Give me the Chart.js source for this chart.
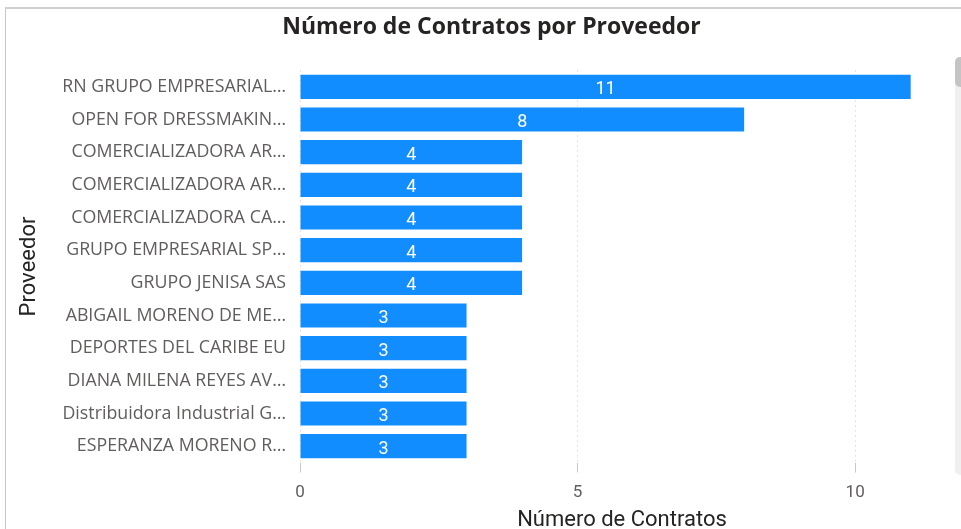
<!DOCTYPE html>
<html>
<head>
<meta charset="utf-8">
<script src="https://cdn.jsdelivr.net/npm/chart.js@4"></script>
<style>
  html, body { margin:0; padding:0; background:#fff; }
  #wrap { position:relative; width:961px; height:529px; overflow:hidden; background:#fff; }
  #frame { position:absolute; left:5px; top:7px; width:970px; height:540px; border-left:1px solid #c6c6c6; border-top:2px solid #d0d0d0; box-sizing:border-box; }
  #scroll { position:absolute; left:955px; top:57px; width:10px; height:418px; background:#f0f0f0; border-radius:5px; }
  #thumb { position:absolute; left:955px; top:57px; width:10px; height:30px; background:#c4c4c4; border-radius:5px; }
  canvas { position:absolute; left:0; top:0; }
</style>
</head>
<body>
<div id="wrap">
  <div id="frame"></div>
  <div id="scroll"></div>
  <div id="thumb"></div>
  <canvas id="c" width="961" height="529"></canvas>
</div>
<script>
const chartTitle = "Número de Contratos por Proveedor";
const categories = [
  "RN GRUPO EMPRESARIAL…",
  "OPEN FOR DRESSMAKIN…",
  "COMERCIALIZADORA AR…",
  "COMERCIALIZADORA AR…",
  "COMERCIALIZADORA CA…",
  "GRUPO EMPRESARIAL SP…",
  "GRUPO JENISA SAS",
  "ABIGAIL MORENO DE ME…",
  "DEPORTES DEL CARIBE EU",
  "DIANA MILENA REYES AV…",
  "Distribuidora Industrial G…",
  "ESPERANZA MORENO R…"
];
const contratos = [11, 8, 4, 4, 4, 4, 4, 3, 3, 3, 3, 3];
const xTicks = [0, 5, 10];

const extras = {
  id: 'extras',
  afterDraw(chart) {
    const ctx = chart.ctx;
    ctx.save();
    ctx.fillStyle = '#252423';
    ctx.font = 'bold 23px "Open Sans"';
    ctx.textAlign = 'center';
    ctx.textBaseline = 'middle';
    ctx.fillText(chartTitle, 491.5, 27);
    ctx.restore();
  },
  afterDatasetsDraw(chart) {
    const ctx = chart.ctx;
    const meta = chart.getDatasetMeta(0);
    ctx.save();
    ctx.fillStyle = '#ffffff';
    ctx.font = '18px Roboto';
    ctx.textAlign = 'center';
    ctx.textBaseline = 'middle';
    meta.data.forEach((bar, i) => {
      const cx = (bar.base + bar.x) / 2;
      ctx.fillText(String(contratos[i]), cx, bar.y + 3);
    });
    ctx.restore();
  }
};

new Chart(document.getElementById('c'), {
  type: 'bar',
  data: {
    labels: categories,
    datasets: [{
      data: contratos,
      backgroundColor: '#118DFF',
      barPercentage: 0.74,
      categoryPercentage: 1.0
    }]
  },
  options: {
    indexAxis: 'y',
    responsive: false,
    animation: false,
    devicePixelRatio: 1,
    layout: { padding: { left: 16, right: 17, top: 70.5, bottom: 0 } },
    plugins: {
      legend: { display: false },
      tooltip: { enabled: false },
      title: { display: false }
    },
    scales: {
      x: {
        min: 0,
        max: 11.6,
        afterBuildTicks(scale) { scale.ticks = xTicks.map(v => ({ value: v })); },
        afterFit(scale) { scale.height = 66.5; },
        grid: {
          display: true,
          color: '#c8c8c8',
          lineWidth: 1,
          drawTicks: true,
          tickLength: 10,
          tickColor: '#c8c8c8'
        },
        border: { display: false, dash: [1, 4] },
        ticks: {
          color: '#605e5c',
          font: { family: 'Roboto', size: 17 },
          padding: 10
        },
        title: {
          display: true,
          text: 'Número de Contratos',
          color: '#252423',
          font: { family: 'Roboto', size: 22 },
          padding: { top: 0, bottom: -5 }
        }
      },
      y: {
        afterFit(scale) { scale.width = 284; },
        border: { display: false },
        grid: { display: false, drawTicks: false },
        ticks: {
          color: '#605e5c',
          font: { family: 'Open Sans', size: 17.8 },
          padding: 14,
          autoSkip: false
        },
        title: {
          display: true,
          text: 'Proveedor',
          color: '#252423',
          font: { family: 'Roboto', size: 22 },
          padding: { top: 0, bottom: 0 }
        }
      }
    }
  },
  plugins: [extras]
});
</script>
</body>
</html>
